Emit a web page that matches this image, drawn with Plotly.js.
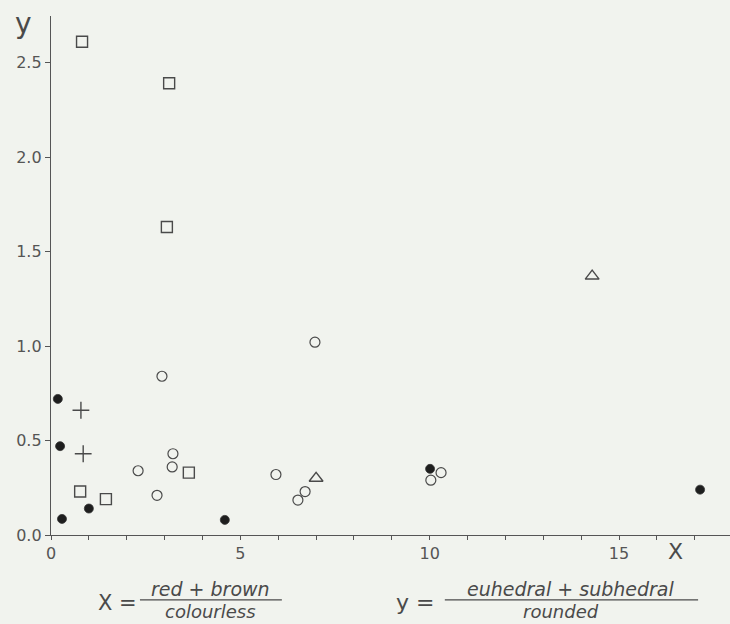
<!DOCTYPE html>
<html>
<head>
<meta charset="utf-8">
<script src="https://cdn.plot.ly/plotly-3.0.1.min.js"></script>
<style>html,body{margin:0;padding:0;background:#f1f3ee;}</style>
</head>
<body>
<div id="chart" style="width:730px;height:624px;"></div>
<script>
// Data
var squareX = [0.82, 3.12, 3.06, 0.77, 1.45, 3.64];
var squareY = [2.61, 2.39, 1.63, 0.23, 0.19, 0.33];

var filledX = [0.18, 0.24, 0.29, 1.00, 4.59, 10.01, 17.14];
var filledY = [0.72, 0.47, 0.085, 0.14, 0.08, 0.35, 0.24];

var plusX = [0.79, 0.85];
var plusY = [0.66, 0.43];

var openX = [2.93, 2.30, 2.80, 3.22, 3.20, 6.97, 5.94, 6.71, 6.52, 10.03, 10.30];
var openY = [0.84, 0.34, 0.21, 0.43, 0.36, 1.02, 0.32, 0.23, 0.185, 0.29, 0.33];

var triX = [7.00, 14.29];
var triY = [0.30, 1.37];

var xTickVals = [0,1,2,3,4,5,6,7,8,9,10,11,12,13,14,15,16,17];
var xTickText = ["0","","","","","5","","","","","10","","","","","15","",""];
var yTickVals = [0, 0.5, 1.0, 1.5, 2.0, 2.5];
var yTickText = ["0.0", "0.5", "1.0", "1.5", "2.0", "2.5"];

var ink = '#4a4a4a';
var fontFam = 'DejaVu Sans, sans-serif';

var traces = [
  {x: squareX, y: squareY, mode: 'markers', type: 'scatter',
   marker: {symbol: 'square-open', size: 11, color: ink, line: {width: 1.4, color: ink}}},
  {x: filledX, y: filledY, mode: 'markers', type: 'scatter',
   marker: {symbol: 'circle', size: 9, color: '#1e1e1e', line: {width: 0.8, color: '#333'}}},
  {x: plusX, y: plusY, mode: 'markers', type: 'scatter',
   marker: {symbol: 'cross-thin-open', size: 12, color: ink, line: {width: 1.4, color: ink}}},
  {x: openX, y: openY, mode: 'markers', type: 'scatter',
   marker: {symbol: 'circle-open', size: 10, color: ink, line: {width: 1.2, color: ink}}},
  {x: triX, y: triY, mode: 'markers', type: 'scatter',
   marker: {symbol: 'triangle-up-open', size: 12, color: ink, line: {width: 1.4, color: ink}}}
];

var layout = {
  width: 730, height: 624,
  margin: {l: 51, r: 0, t: 16, b: 89, pad: 0},
  paper_bgcolor: '#f1f3ee',
  plot_bgcolor: '#f1f3ee',
  showlegend: false,
  font: {family: fontFam, color: ink},
  xaxis: {
    range: [0, 17.93], tickmode: 'array', tickvals: xTickVals, ticktext: xTickText,
    ticks: 'outside', ticklen: 4, tickwidth: 1, tickcolor: '#555',
    showline: true, linecolor: '#555', linewidth: 1.2,
    showgrid: false, zeroline: false,
    tickfont: {size: 16, color: '#555', family: fontFam}
  },
  yaxis: {
    range: [0, 2.746], tickmode: 'array', tickvals: yTickVals, ticktext: yTickText,
    ticks: 'outside', ticklen: 5, tickwidth: 1, tickcolor: '#555',
    showline: true, linecolor: '#555', linewidth: 1.2,
    showgrid: false, zeroline: false,
    tickfont: {size: 16, color: '#555', family: fontFam}
  },
  annotations: [
    {text: 'y', xref: 'paper', yref: 'paper', x: -0.04, y: 0.985, showarrow: false,
     xanchor: 'center', yanchor: 'middle', font: {size: 28, color: ink}},
    {text: 'X', xref: 'paper', yref: 'paper', x: 0.92, y: -0.031, showarrow: false,
     xanchor: 'center', yanchor: 'middle', font: {size: 22, color: ink}},
    {text: 'X =', xref: 'paper', yref: 'paper', x: 0.098, y: -0.131, showarrow: false,
     xanchor: 'center', yanchor: 'middle', font: {size: 21, color: ink}},
    {text: '<i>red + brown</i>', xref: 'paper', yref: 'paper', x: 0.2356, y: -0.104, showarrow: false,
     xanchor: 'center', yanchor: 'middle', font: {size: 19, color: ink}},
    {text: '<i>colourless</i>', xref: 'paper', yref: 'paper', x: 0.2356, y: -0.147, showarrow: false,
     xanchor: 'center', yanchor: 'middle', font: {size: 18, color: ink}},
    {text: 'y =', xref: 'paper', yref: 'paper', x: 0.536, y: -0.131, showarrow: false,
     xanchor: 'center', yanchor: 'middle', font: {size: 22, color: ink}},
    {text: '<i>euhedral + subhedral</i>', xref: 'paper', yref: 'paper', x: 0.766, y: -0.104, showarrow: false,
     xanchor: 'center', yanchor: 'middle', font: {size: 19, color: ink}},
    {text: '<i>rounded</i>', xref: 'paper', yref: 'paper', x: 0.751, y: -0.147, showarrow: false,
     xanchor: 'center', yanchor: 'middle', font: {size: 18, color: ink}}
  ],
  shapes: [
    {type: 'line', xref: 'paper', yref: 'paper', x0: 0.131, x1: 0.340, y0: -0.125, y1: -0.125,
     line: {color: ink, width: 1.2}},
    {type: 'line', xref: 'paper', yref: 'paper', x0: 0.580, x1: 0.953, y0: -0.125, y1: -0.125,
     line: {color: ink, width: 1.2}}
  ]
};

Plotly.newPlot('chart', traces, layout, {displayModeBar: false, staticPlot: true});
</script>
</body>
</html>
